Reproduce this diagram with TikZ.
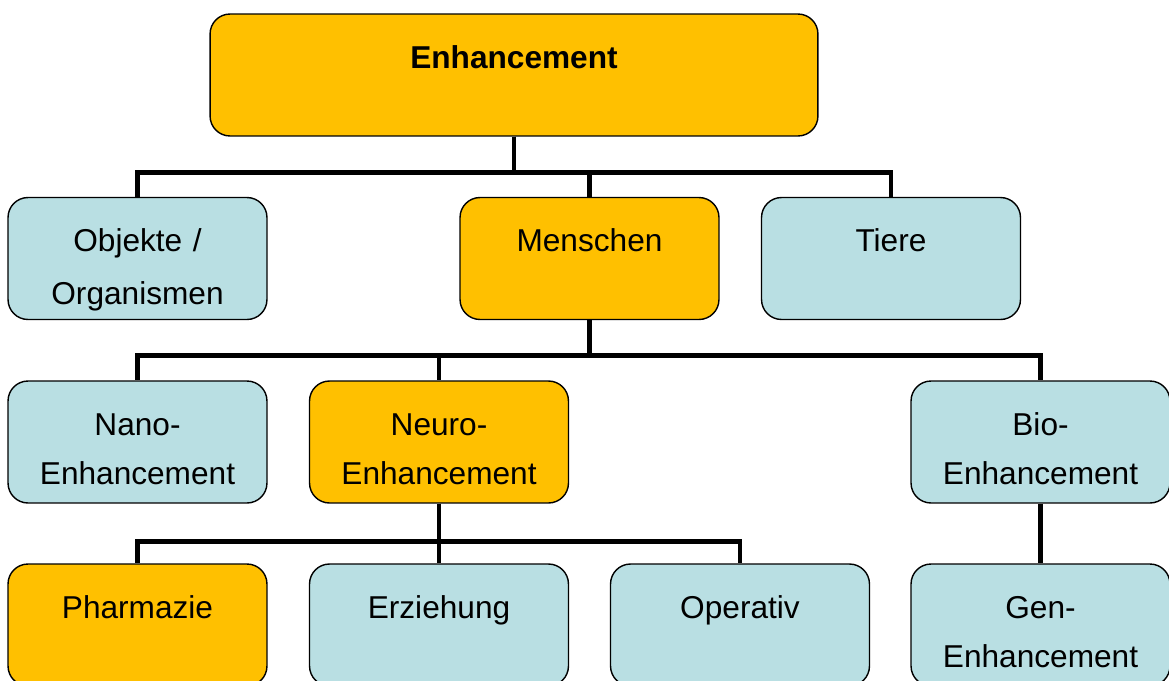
\documentclass[tikz,border=0pt]{standalone}
\usepackage{fontspec}
\setmainfont{Liberation Sans}
\definecolor{boxorange}{RGB}{255,192,0}
\definecolor{boxblue}{RGB}{185,223,227}
\begin{document}
\begin{tikzpicture}[x=0.02cm, y=-0.02cm, every node/.style={draw, rounded corners=0.4cm, line width=0.8pt, inner sep=0pt, align=center, text width=5.18cm, text height=1.08cm, text depth=1.36cm, font=\fontsize{18}{28}\selectfont}, main/.style={fill=boxorange}, side/.style={fill=boxblue}, wide/.style={text width=12.16cm, font=\fontsize{18}{28}\selectfont\bfseries}, loose/.style={font=\fontsize{18}{30}\selectfont}, link/.style={line width=2.8pt}]

		\clip (0, 0) rectangle (1169, 680);

		\node[main, wide] (1) at (514, 75) {Enhancement};
		\node[side, loose] (2) at (137.5, 258.5) {Objekte /\\Organismen};
		\node[main] (3) at (589.5, 258.5) {Menschen};
		\node[side] (4) at (891, 258.5) {Tiere};
		\node[side] (5) at (137.5, 442) {Nano-\\Enhancement};
		\node[main] (6) at (439, 442) {Neuro-\\Enhancement};
		\node[side] (7) at (1040.5, 442) {Bio-\\Enhancement};
		\node[main] (8) at (137.5, 625) {Pharmazie};
		\node[side] (9) at (439, 625) {Erziehung};
		\node[side] (10) at (740, 625) {Operativ};
		\node[side] (11) at (1040.5, 625) {Gen-\\Enhancement};

		\draw[link] (1.south) -- ++(0, 36) -| (2.north);
		\draw[link] (1.south) -- ++(0, 36) -| (3.north);
		\draw[link] (1.south) -- ++(0, 36) -| (4.north);
		\draw[link] (3.south) -- ++(0, 35) -| (5.north);
		\draw[link] (3.south) -- ++(0, 35) -| (6.north);
		\draw[link] (3.south) -- ++(0, 35) -| (7.north);
		\draw[link] (6.south) -- ++(0, 38) -| (8.north);
		\draw[link] (6.south) -- ++(0, 38) -| (9.north);
		\draw[link] (6.south) -- ++(0, 38) -| (10.north);
		\draw[link] (7.south) -- (11.north);
	\end{tikzpicture}
\end{document}
